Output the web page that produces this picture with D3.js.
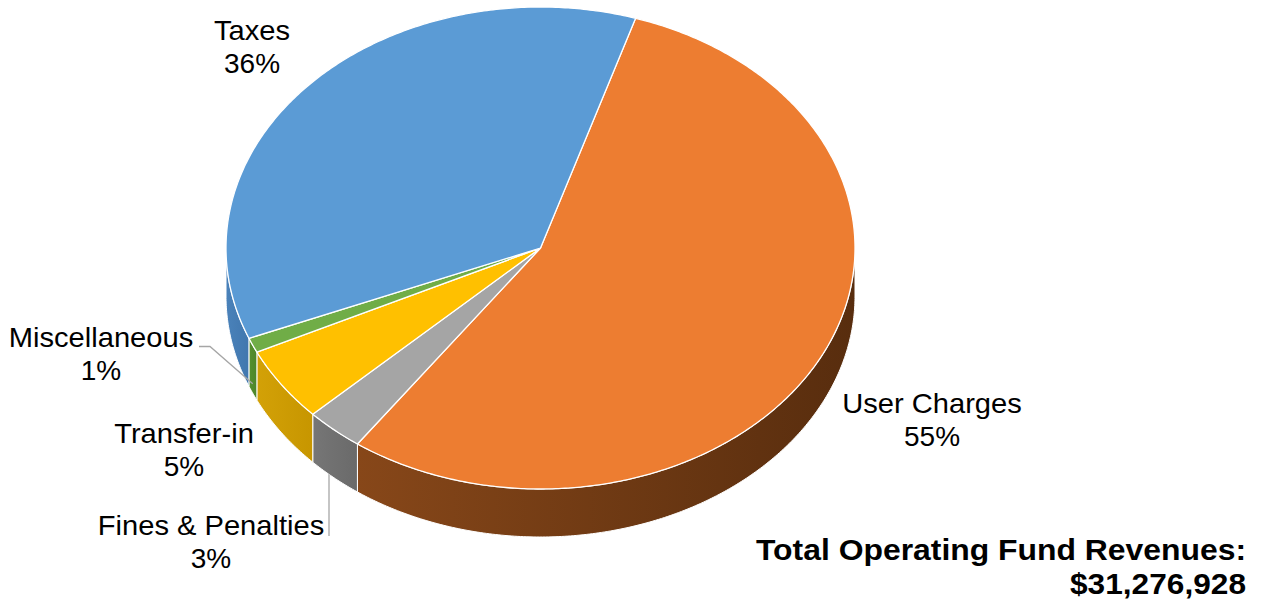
<!DOCTYPE html>
<html>
<head>
<meta charset="utf-8">
<script src="https://cdn.jsdelivr.net/npm/d3@7"></script>
<style>
  html, body { margin: 0; padding: 0; background: #ffffff; }
  svg { display: block; }
</style>
</head>
<body>
<svg id="chart" width="1267" height="607"></svg>
<script>
// Operating fund revenue mix, drawn clockwise from the top-right boundary
const categories = ["User Charges", "Fines & Penalties", "Transfer-in", "Miscellaneous", "Taxes"];
const shares = [55, 3, 5, 1, 36];
const percentLabels = ["55%", "3%", "5%", "1%", "36%"];
const topColors = ["#ED7D31", "#A5A5A5", "#FFC000", "#70AD47", "#5B9BD5"];
const sideColorsLeft = ["#874719", "#767676", "#D3A107", "#56902F", "#4A82BA"];
const sideColorsRight = ["#582D0E", "#6A6A6A", "#C79600", "#4C8529", "#4177AE"];
const totalTitle = "Total Operating Fund Revenues:";
const totalValue = "$31,276,928";

const svg = d3.select("#chart");

// Ellipse geometry of the tilted disc
const cx = 540.5, cy = 248, rx = 314.5, ry = 241, depth = 48;
const startDeg = 17.6;
const start = startDeg * Math.PI / 180;

const pie = d3.pie()
  .sort(null)
  .value(d => d)
  .startAngle(start)
  .endAngle(start + 2 * Math.PI);
const arcs = pie(shares);

const rim = (a, dy = 0) => [cx + rx * Math.sin(a), cy - ry * Math.cos(a) + dy];

function arcPoints(a0, a1, dy) {
  const n = Math.max(2, Math.ceil(Math.abs(a1 - a0) / 0.01));
  return d3.range(n + 1).map(i => rim(a0 + (a1 - a0) * i / n, dy));
}

const line = d3.line();

// Gradients for the side walls
const defs = svg.append("defs");
arcs.forEach((d, i) => {
  const g = defs.append("linearGradient")
    .attr("id", "side" + i)
    .attr("x1", "0%").attr("x2", "100%")
    .attr("y1", "0%").attr("y2", "0%");
  g.append("stop").attr("offset", "0%").attr("stop-color", sideColorsLeft[i]);
  g.append("stop").attr("offset", "100%").attr("stop-color", sideColorsRight[i]);
});

// Front walls: only the part of each slice between 90° and 270° faces the viewer
const frontLo = Math.PI / 2, frontHi = 3 * Math.PI / 2;
const walls = svg.append("g").attr("class", "walls");
arcs.forEach((d, i) => {
  const a0 = Math.max(d.startAngle, frontLo);
  const a1 = Math.min(d.endAngle, frontHi);
  if (a1 <= a0) return;
  const topEdge = arcPoints(a0, a1, 0);
  const bottomEdge = arcPoints(a1, a0, depth);
  walls.append("path")
    .attr("d", line(topEdge.concat(bottomEdge)) + "Z")
    .attr("fill", `url(#side${i})`)
    .attr("stroke", "#ffffff")
    .attr("stroke-width", 1)
    .attr("stroke-linejoin", "round");
});

// Top faces
const tops = svg.append("g").attr("class", "tops");
arcs.forEach((d, i) => {
  const pts = [[cx, cy]].concat(arcPoints(d.startAngle, d.endAngle, 0));
  tops.append("path")
    .attr("d", line(pts) + "Z")
    .attr("fill", topColors[i])
    .attr("stroke", "#ffffff")
    .attr("stroke-width", 1.3)
    .attr("stroke-linejoin", "round");
});

// Data labels: name line + percent line, centered on an anchor
const labelLayout = {
  "User Charges":      { x: 932, y: 413 },
  "Fines & Penalties": { x: 211, y: 535 },
  "Transfer-in":       { x: 184, y: 443 },
  "Miscellaneous":     { x: 101, y: 347 },
  "Taxes":             { x: 252, y: 40 }
};
const lineGap = 33;
const labels = svg.append("g")
  .attr("font-family", "'Liberation Sans', Arial, Helvetica, sans-serif")
  .attr("font-size", 28)
  .attr("fill", "#000000")
  .attr("text-anchor", "middle");

categories.forEach((name, i) => {
  const pos = labelLayout[name];
  const g = labels.append("g").attr("transform", `translate(${pos.x},${pos.y})`);
  g.append("text")
    .attr("transform", "scale(1.04,1)")
    .text(name);
  g.append("text")
    .attr("y", lineGap)
    .text(percentLabels[i]);
});

// Leader lines for the thin slices
const leaders = svg.append("g")
  .attr("fill", "none")
  .attr("stroke", "#A6A6A6")
  .attr("stroke-width", 1.3);

const miscArc = arcs[categories.indexOf("Miscellaneous")];
const miscMid = (miscArc.startAngle + miscArc.endAngle) / 2;
const miscEnd = rim(miscMid, depth * 0.8);
leaders.append("path")
  .attr("d", line([[199, 346.5], [210, 346.5], miscEnd]));

const finesX = 329;
const finesBottom = cy + ry * Math.sqrt(1 - Math.pow((finesX - cx) / rx, 2)) + depth;
leaders.append("path")
  .attr("d", line([[finesX, 536], [finesX, finesBottom]]));

// Total caption, right aligned on two lines
const caption = svg.append("g")
  .attr("font-family", "'Liberation Sans', Arial, Helvetica, sans-serif")
  .attr("font-weight", "bold")
  .attr("font-size", 29)
  .attr("fill", "#000000")
  .attr("text-anchor", "end");
caption.append("text")
  .attr("x", 1246).attr("y", 560)
  .attr("textLength", 490)
  .attr("lengthAdjust", "spacingAndGlyphs")
  .text(totalTitle);
caption.append("text")
  .attr("x", 1246).attr("y", 594)
  .attr("textLength", 176)
  .attr("lengthAdjust", "spacingAndGlyphs")
  .text(totalValue);
</script>
</body>
</html>
